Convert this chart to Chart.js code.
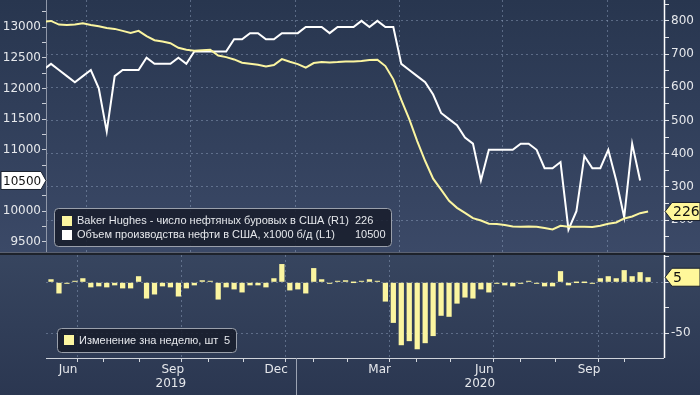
<!DOCTYPE html>
<html>
<head>
<meta charset="utf-8">
<script src="https://cdn.jsdelivr.net/npm/chart.js@4.4.1/dist/chart.umd.min.js"></script>
<style>
html, body { margin: 0; padding: 0; overflow: hidden; background: #2c3953; }
#wrap { position: relative; width: 700px; height: 395px; }
#topBox { position: absolute; left: 0; top: 0; width: 700px; height: 252px; background: linear-gradient(#28364f, #3b4967); }
#sep { position: absolute; left: 0; top: 252px; width: 700px; height: 3px; background: #1d222b; border-top: 1px solid #5b6272; box-sizing: border-box; }
#botBox { position: absolute; left: 0; top: 255px; width: 700px; height: 140px; background: linear-gradient(#37455f, #2b3751); }
canvas { position: absolute; left: 0; top: 0; }
</style>
</head>
<body>
<div id="wrap">
  <div id="topBox"><canvas id="topChart" width="700" height="252"></canvas></div>
  <div id="sep"></div>
  <div id="botBox"><canvas id="botChart" width="700" height="140"></canvas></div>
</div>
<script>
// недельные данные, первая неделя 24.05.2019, шаг 7 дней
const weekStart = '2019-05-24'

// Baker Hughes, нефтяные буровые (R1)
const rigCount = [797, 800, 789, 788, 789, 793, 788, 784, 779, 776, 770, 764, 770, 754, 742,
    738, 733, 719, 713, 710, 712, 713, 696, 691, 684, 674, 671, 668, 663, 667, 685, 677,
    670, 659, 673, 676, 675, 676, 678, 678, 679, 682, 683, 664, 624, 562, 504, 438, 378,
    325, 292, 258, 237, 222, 206, 199, 189, 188, 185, 181, 180, 181, 180, 176, 172, 183, 180,
    180, 180, 179, 183, 189, 193, 205, 211, 221, 226]

// добыча нефти в США, тыс. б/д (L1), на неделю короче
const oilOutput = [12300, 12400, 12300, 12200, 12100, 12200, 12300, 12000, 11300, 12200,
    12300, 12300, 12300, 12500, 12400, 12400, 12400, 12500, 12400, 12600, 12600, 12600, 12600,
    12600, 12800, 12800, 12900, 12900, 12800, 12800, 12900, 12900, 12900, 13000, 13000, 13000,
    12900, 13000, 13000, 13000, 13100, 13000, 13100, 13000, 13000, 12400, 12300, 12200, 12100,
    11900, 11600, 11500, 11400, 11200, 11100, 10500, 11000, 11000, 11000, 11000, 11100, 11100,
    11000, 10700, 10700, 10800, 9700, 10000, 10900, 10700, 10700, 11000, 10500, 9900, 11100, 10500]

// изменение за неделю, с 31.05.2019
const rigChange = [3, -11, -1, 1, 4, -5, -4, -5, -3, -6, -6, 6, -16, -12, -4, -5, -14, -6,
    -3, 2, 1, -17, -5, -7, -10, -3, -3, -5, 4, 18, -8, -7, -11, 14, 3, -1, 1, 2, 0, 1, 3, 1,
    -19, -40, -62, -58, -66, -60, -53, -33, -34, -21, -15, -16, -7, -10, -1, -3, -4, -1, 1, -1,
    -4, -4, 11, -3, 0, 0, -1, 4, 6, 4, 12, 6, 10, 5]

const monthTicks = ['2019-06-01', '2019-07-01', '2019-08-01', '2019-09-01', '2019-10-01', '2019-11-01',
    '2019-12-01', '2020-01-01', '2020-02-01', '2020-03-01', '2020-04-01', '2020-05-01', '2020-06-01',
    '2020-07-01', '2020-08-01', '2020-09-01', '2020-10-01', '2020-11-01']
const gridMonths = ['2019-07-01', '2019-10-01', '2020-01-01', '2020-04-01', '2020-07-01', '2020-10-01']
const monthLabelDates = ['2019-06-15', '2019-09-15', '2019-12-15', '2020-03-15', '2020-06-15', '2020-09-15']
const monthLabels = ['Jun', 'Sep', 'Dec', 'Mar', 'Jun', 'Sep']
const yearLabels = ['2019', '2020']
const yearBreak = '2020-01-01'

const leftTicks = [9500, 9750, 10000, 10250, 10500, 10750, 11000, 11250, 11500, 11750, 12000, 12250, 12500, 12750, 13000, 13250]
const rightTicks = [150, 200, 250, 300, 350, 400, 450, 500, 550, 600, 650, 700, 750, 800, 850]
const changeTicks = [-50, -25, 0, 25]

const legendTop = ['Baker Hughes - число нефтяных буровых в США (R1)', 'Объем производства нефти в США, x1000 б/д (L1)']
const legendBottom = 'Изменение зна неделю, шт'

const YELLOW = '#fbf5a0'
const TEXT = '#e6e8ec'
const FONT = 'DejaVu Sans'
const LEG_FONT = 'Liberation Sans'

const toDay = (s) => Date.UTC(+s.slice(0, 4), +s.slice(5, 7) - 1, +s.slice(8, 10)) / 86400000
const week0 = toDay(weekStart)
const weeks = rigCount.map((_, i) => week0 + 7 * i)
const xMin = toDay('2019-05-31') - 4.4
const xMax = toDay('2019-05-31') + 539

const rigPoints = rigCount.map((v, i) => ({ x: weeks[i], y: v }))
const oilPoints = oilOutput.map((v, i) => ({ x: weeks[i], y: v }))
const changePoints = rigChange.map((v, i) => ({ x: weeks[i + 1], y: v }))

const gridSet = new Set(gridMonths.map(toDay))
const monthSet = new Set(monthTicks.map(toDay))
const labelMap = {}
monthLabelDates.forEach((d, i) => { labelMap[toDay(d)] = monthLabels[i] })

const asTicks = (arr) => arr.map(v => ({ value: v }))

// вертикальная ось без отступов под подписи
const fixWidth = (w) => (s) => { s.width = w; s.paddingTop = 0; s.paddingBottom = 0 }

// метка значения на оси (стрелка)
const drawTag = (ctx, tipX, y, side, text, fill, size) => {
    ctx.save()
    ctx.beginPath()
    if (side === 'right') {
        ctx.moveTo(tipX, y)
        ctx.lineTo(tipX + 7, y - 9)
        ctx.lineTo(700, y - 9)
        ctx.lineTo(700, y + 9)
        ctx.lineTo(tipX + 7, y + 9)
    } else {
        ctx.moveTo(tipX, y)
        ctx.lineTo(tipX - 5, y - 9)
        ctx.lineTo(1, y - 9)
        ctx.lineTo(1, y + 9)
        ctx.lineTo(tipX - 5, y + 9)
    }
    ctx.closePath()
    ctx.fillStyle = fill
    ctx.fill()
    ctx.strokeStyle = '#1b2230'
    ctx.lineWidth = 1
    ctx.stroke()
    ctx.fillStyle = '#111'
    ctx.font = `${size}px ${FONT}`
    ctx.textBaseline = 'middle'
    ctx.textAlign = 'left'
    ctx.fillText(text, side === 'right' ? tipX + 8 : 3, y + 1)
    ctx.restore()
}

const roundBox = (ctx, x, y, w, h) => {
    ctx.beginPath()
    ctx.roundRect(x + 0.5, y + 0.5, w, h, 4)
    ctx.fillStyle = 'rgba(24,30,44,0.88)'
    ctx.fill()
    ctx.strokeStyle = '#9aa0ab'
    ctx.lineWidth = 1
    ctx.stroke()
}

const vLine = (ctx, x, y1, y2, color, w) => {
    ctx.save()
    ctx.strokeStyle = color
    ctx.lineWidth = w
    ctx.beginPath()
    ctx.moveTo(x, y1)
    ctx.lineTo(x, y2)
    ctx.stroke()
    ctx.restore()
}

const topExtras = {
    id: 'topExtras',
    afterDraw(chart) {
        const ctx = chart.ctx
        const yL = chart.scales.yL, yR = chart.scales.yR
        vLine(ctx, yR.left + 0.5, 0, chart.height, '#ffffff', 1.5)
        // легенда
        roundBox(ctx, 54, 208, 337, 38)
        ctx.save()
        ctx.fillStyle = YELLOW
        ctx.fillRect(62, 216, 10, 10)
        ctx.fillStyle = '#ffffff'
        ctx.fillRect(62, 230, 10, 10)
        ctx.fillStyle = TEXT
        ctx.font = `11px ${LEG_FONT}`
        ctx.textBaseline = 'middle'
        ctx.fillText(legendTop[0], 77, 221)
        ctx.fillText(legendTop[1], 77, 235)
        ctx.fillText(String(rigCount[rigCount.length - 1]), 355, 221)
        ctx.fillText(String(oilOutput[oilOutput.length - 1]), 355, 235)
        ctx.restore()
        drawTag(ctx, yR.left + 1, yR.getPixelForValue(rigCount[rigCount.length - 1]), 'right',
            String(rigCount[rigCount.length - 1]), '#fff79a', 14)
        drawTag(ctx, yL.right, yL.getPixelForValue(oilOutput[oilOutput.length - 1]), 'left',
            String(oilOutput[oilOutput.length - 1]), '#ffffff', 12)
    }
}

const botExtras = {
    id: 'botExtras',
    afterDraw(chart) {
        const ctx = chart.ctx
        const x = chart.scales.x, y = chart.scales.y
        const area = chart.chartArea
        vLine(ctx, y.left + 0.5, 0, area.bottom, '#ffffff', 1.5)
        ctx.save()
        ctx.strokeStyle = '#cfd3da'
        ctx.lineWidth = 1
        ctx.beginPath()
        ctx.moveTo(area.left, area.bottom + 0.5)
        ctx.lineTo(area.right, area.bottom + 0.5)
        ctx.stroke()
        ctx.restore()
        roundBox(ctx, 57, 73, 179, 24)
        ctx.save()
        ctx.fillStyle = YELLOW
        ctx.fillRect(64, 80, 10, 10)
        ctx.fillStyle = TEXT
        ctx.font = `11px ${LEG_FONT}`
        ctx.textBaseline = 'middle'
        ctx.fillText(legendBottom, 79, 86)
        ctx.fillText(String(rigChange[rigChange.length - 1]), 224, 86)
        // годы
        const xb = x.getPixelForValue(toDay(yearBreak))
        ctx.font = `12px ${FONT}`
        ctx.textAlign = 'center'
        ctx.fillText(yearLabels[0], (x.left + xb) / 2, 129)
        ctx.fillText(yearLabels[1], (xb + x.right) / 2, 129)
        ctx.restore()
        vLine(ctx, Math.round(xb) + 0.5, area.bottom, 140, '#9ba3b3', 1)
        drawTag(ctx, y.left + 1, y.getPixelForValue(rigChange[rigChange.length - 1]), 'right',
            String(rigChange[rigChange.length - 1]), '#fff79a', 14)
    }
}

const gridDash = 'rgba(150,168,198,0.45)'
const tickFont = { family: FONT, size: 12 }

new Chart(document.getElementById('topChart'), {
    type: 'line',
    data: {
        datasets: [
            { data: rigPoints, yAxisID: 'yR', borderColor: YELLOW, borderWidth: 2, pointRadius: 0, tension: 0 },
            { data: oilPoints, yAxisID: 'yL', borderColor: '#ffffff', borderWidth: 2, pointRadius: 0, tension: 0 }
        ]
    },
    options: {
        responsive: false,
        animation: false,
        layout: { padding: 0 },
        plugins: { legend: { display: false }, tooltip: { enabled: false } },
        scales: {
            x: {
                type: 'linear', min: xMin, max: xMax,
                afterBuildTicks: (s) => { s.ticks = asTicks(gridMonths.map(toDay)) },
                ticks: { display: false },
                grid: { color: gridDash, drawTicks: false },
                border: { display: false, dash: [2, 3] },
                afterFit: (s) => { s.height = 0; s.paddingLeft = 0; s.paddingRight = 0 }
            },
            yL: {
                position: 'left', min: 9335, max: 13440,
                afterBuildTicks: (s) => { s.ticks = asTicks(leftTicks) },
                ticks: {
                    color: TEXT, font: tickFont, padding: 1, autoSkip: false,
                    callback: (v) => v % 500 === 0 ? String(v) : ''
                },
                grid: { drawOnChartArea: false, tickLength: 4, tickColor: '#c9cdd5' },
                border: { color: '#8f97a8' },
                afterFit: fixWidth(46)
            },
            yR: {
                position: 'right', min: 104, max: 863,
                afterBuildTicks: (s) => { s.ticks = asTicks(rightTicks) },
                ticks: {
                    color: TEXT, font: tickFont, padding: 2, autoSkip: false,
                    callback: (v) => v % 100 === 0 ? String(v) : ''
                },
                grid: {
                    color: (c) => c.tick && c.tick.value % 100 === 0 ? gridDash : 'rgba(0,0,0,0)',
                    tickLength: 5, tickColor: '#e0e3e8', tickBorderDash: []
                },
                border: { display: false, dash: [2, 3] },
                afterFit: fixWidth(36)
            }
        }
    },
    plugins: [topExtras]
})

new Chart(document.getElementById('botChart'), {
    type: 'bar',
    data: {
        datasets: [{
            data: changePoints, backgroundColor: YELLOW, borderWidth: 0,
            barPercentage: 0.66, categoryPercentage: 1, minBarLength: 1.5
        }]
    },
    options: {
        responsive: false,
        animation: false,
        layout: { padding: { left: 46, top: 0, right: 0, bottom: 0 } },
        plugins: { legend: { display: false }, tooltip: { enabled: false } },
        scales: {
            x: {
                type: 'linear', min: xMin, max: xMax, offset: false,
                afterBuildTicks: (s) => {
                    s.ticks = asTicks([...monthTicks, ...monthLabelDates].map(toDay).sort((a, b) => a - b))
                },
                ticks: {
                    color: TEXT, font: tickFont, padding: 1,
                    autoSkip: false, maxRotation: 0,
                    callback: (v) => labelMap[v] || ''
                },
                grid: {
                    color: (c) => c.tick && gridSet.has(c.tick.value) ? gridDash : 'rgba(0,0,0,0)',
                    tickColor: (c) => c.tick && monthSet.has(c.tick.value) ? '#d3d7de' : 'rgba(0,0,0,0)',
                    tickLength: 4, tickBorderDash: []
                },
                border: { display: false, dash: [2, 3] },
                afterFit: (s) => { s.height = 37; s.paddingLeft = 0; s.paddingRight = 0 }
            },
            y: {
                position: 'right', min: -74.6, max: 26.9,
                afterBuildTicks: (s) => { s.ticks = asTicks(changeTicks) },
                ticks: {
                    color: TEXT, font: tickFont, padding: 2, autoSkip: false,
                    callback: (v) => v === -50 ? '-50' : ''
                },
                grid: {
                    color: (c) => c.tick && (c.tick.value === -50 || c.tick.value === 0) ? gridDash : 'rgba(0,0,0,0)',
                    tickLength: 5, tickColor: '#e0e3e8', tickBorderDash: []
                },
                border: { display: false, dash: [2, 3] },
                afterFit: fixWidth(36)
            }
        }
    },
    plugins: [botExtras]
})
</script>
</body>
</html>
